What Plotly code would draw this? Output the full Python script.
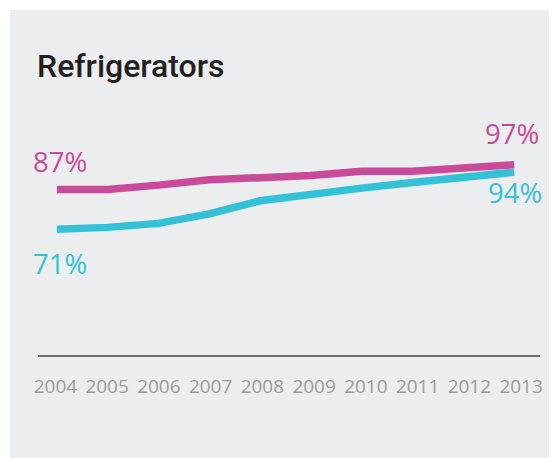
import plotly.graph_objects as go

# Share of households owning a refrigerator, by year
years = [2004, 2005, 2006, 2007, 2008, 2009, 2010, 2011, 2012, 2013]
series_a = [87, 87, 88.8, 91, 91.8, 92.7, 94.4, 94.4, 95.7, 97]
series_b = [71, 71.8, 73.4, 77.2, 82.5, 85.3, 87.6, 89.9, 91.7, 94]
year_labels = [str(y) for y in years]

MAGENTA = "#CA4A9A"
CYAN = "#33C1D7"
PANEL = "#ECEDEF"

W, H = 552, 458
ML, MR, MT, MB = 38, 9, 100, 103

fig = go.Figure()
fig.add_trace(go.Scatter(x=years, y=series_a, mode="lines",
                         line=dict(color=MAGENTA, width=7.5),
                         hoverinfo="skip", showlegend=False))
fig.add_trace(go.Scatter(x=years, y=series_b, mode="lines",
                         line=dict(color=CYAN, width=7.5),
                         hoverinfo="skip", showlegend=False))
# transparent carrier so the year-label axis gets drawn
fig.add_trace(go.Scatter(x=years, y=series_b, xaxis="x2", mode="markers",
                         marker=dict(opacity=0), hoverinfo="skip",
                         showlegend=False))

pct_font = dict(family="Open Sans, Noto Sans, sans-serif", size=27.5)
def pct(x, y, color, xs, ys):
    fig.add_annotation(x=x, y=y, xref="x", yref="y", text=f"{y:g}%",
                       showarrow=False, xanchor="center", yanchor="middle",
                       xshift=xs, yshift=ys, font=dict(color=color, **pct_font))

pct(years[0], series_a[0], MAGENTA, 3, 28)
pct(years[0], series_b[0], CYAN, 3, -34.6)
pct(years[-1], series_a[-1], MAGENTA, -1.7, 30.8)
pct(years[-1], series_b[-1], CYAN, 0.6, -20.5)

# panel background inset from the top-left corner
pw = W - ML - MR
ph = H - MT - MB
fig.add_shape(type="rect", xref="paper", yref="paper", layer="below",
              x0=(10 - ML) / pw, x1=(W - ML) / pw,
              y0=-(H - MT - ph) / ph, y1=(MT - 10) / ph + 1,
              line=dict(width=0), fillcolor=PANEL)

fig.update_layout(
    width=W, height=H,
    margin=dict(l=ML, r=MR, t=MT, b=MB),
    paper_bgcolor="white",
    plot_bgcolor="rgba(0,0,0,0)",
    title=dict(text="Refrigerators", x=37 / W, xanchor="left",
               y=1 - 66 / H, yanchor="middle",
               font=dict(family="Roboto, sans-serif",
                         size=32, color="#231F20", weight=500)),
    xaxis=dict(range=[2003.628, 2013.509], showgrid=False, zeroline=False,
               showline=True, linecolor="#6D6E71", linewidth=1.6,
               showticklabels=False, ticks=""),
    xaxis2=dict(range=[2003.664, 2013.365], overlaying="x", anchor="y",
                side="bottom", showgrid=False, zeroline=False, showline=False,
                tickmode="array", tickvals=years, ticktext=year_labels,
                ticks="", ticklabelstandoff=18,
                tickfont=dict(family="Open Sans, Noto Sans, sans-serif",
                              size=19, color="#9A9B9D")),
    yaxis=dict(range=[20.44, 123.06], visible=False, showgrid=False,
               zeroline=False),
)

fig.write_html("out.html")
